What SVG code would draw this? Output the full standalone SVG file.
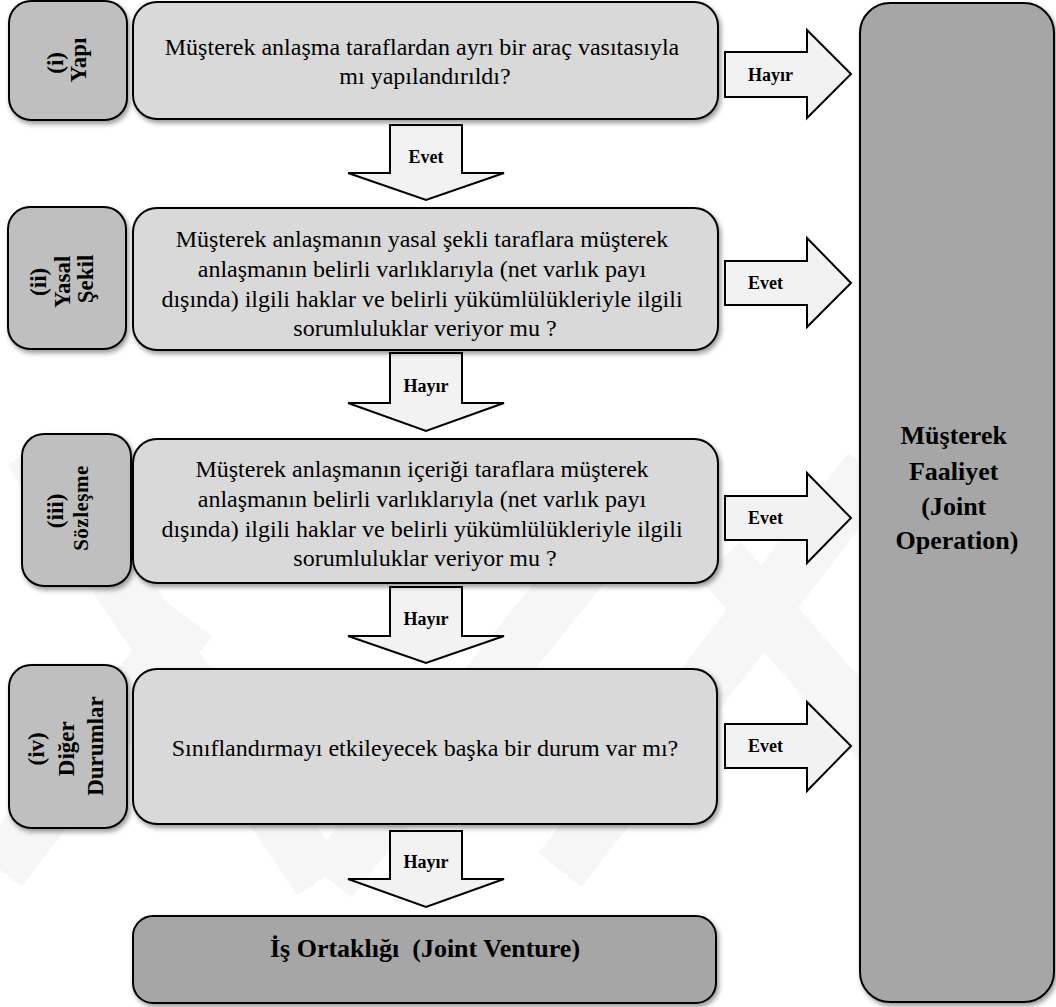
<svg xmlns="http://www.w3.org/2000/svg" width="1056" height="1007" viewBox="0 0 1056 1007">
  <defs>
    <filter id="shadow" x="-10%" y="-10%" width="130%" height="130%">
      <feDropShadow dx="2" dy="3" stdDeviation="2.5" flood-color="#000" flood-opacity="0.4"/>
    </filter>
    <style>
      text { font-family: "Times New Roman", "Liberation Serif", "DejaVu Serif", serif; fill: #000; }
      .label { fill: #bfbfbf; stroke: #000; stroke-width: 2; filter: url(#shadow); }
      .step { fill: #d9d9d9; stroke: #000; stroke-width: 2; filter: url(#shadow); }
      .result { fill: #a6a6a6; stroke: #000; stroke-width: 2; filter: url(#shadow); }
      .arrow { fill: #f2f2f2; stroke: #000; stroke-width: 2; stroke-linejoin: miter; }
      .q { font-size: 24px; text-anchor: middle; }
      .lbl { font-size: 23px; font-weight: bold; text-anchor: middle; }
      .big { font-size: 26px; font-weight: bold; text-anchor: middle; }
      .tag { font-size: 18px; font-weight: bold; }
      .mark { fill: none; stroke: #f6f6f6; stroke-width: 55; stroke-linecap: butt; }
    </style>
  </defs>

  <rect width="1056" height="1007" fill="#fff"/>

  <!-- faint background emblem -->
  <g id="background-emblem">
    <line class="mark" x1="30" y1="450" x2="320" y2="880"/>
    <line class="mark" x1="0" y1="870" x2="190" y2="620"/>
    <line class="mark" x1="560" y1="870" x2="870" y2="470"/>
    <line class="mark" x1="720" y1="560" x2="1000" y2="880"/>
    <line class="mark" x1="330" y1="880" x2="620" y2="520"/>
  </g>

  <!-- connectors -->
  <g id="connectors">
    <!-- right-pointing block arrows -->
    <path class="arrow" d="M725,52 H807 V30 L851,74 L807,118 V97 H725 Z"/>
    <text class="tag" x="748" y="81">Hayır</text>
    <path class="arrow" d="M725,261 H807 V238 L851,283 L807,327 V305 H725 Z"/>
    <text class="tag" x="748" y="289">Evet</text>
    <path class="arrow" d="M725,496 H807 V473 L851,518 L807,563 V540 H725 Z"/>
    <text class="tag" x="748" y="524">Evet</text>
    <path class="arrow" d="M725,724 H807 V702 L851,746 L807,791 V768 H725 Z"/>
    <text class="tag" x="748" y="752">Evet</text>

    <!-- downward block arrows -->
    <path class="arrow" d="M390,125 H462 V173 H504 L426,200 L348,173 H390 Z"/>
    <text class="tag" x="426" y="163" text-anchor="middle">Evet</text>
    <path class="arrow" d="M390,353 H462 V403 H504 L426,431 L348,403 H390 Z"/>
    <text class="tag" x="426" y="392" text-anchor="middle">Hayır</text>
    <path class="arrow" d="M390,587 H462 V636 H504 L426,663 L348,636 H390 Z"/>
    <text class="tag" x="426" y="625" text-anchor="middle">Hayır</text>
    <path class="arrow" d="M390,831 H462 V879 H504 L426,907 L348,879 H390 Z"/>
    <text class="tag" x="426" y="868" text-anchor="middle">Hayır</text>
  </g>

  <!-- stage labels -->
  <g id="label-yapi">
    <rect class="label" x="9" y="1" width="118" height="119" rx="22"/>
    <text class="lbl" transform="translate(0,60) rotate(-90)">
      <tspan x="0" y="63">(i)</tspan>
      <tspan x="0" y="86">Yapı</tspan>
    </text>
  </g>
  <g id="label-yasal-sekil">
    <rect class="label" x="8" y="207" width="118" height="142" rx="22"/>
    <text class="lbl" transform="translate(0,279) rotate(-90)">
      <tspan x="0" y="46">(ii)</tspan>
      <tspan x="0" y="70">Yasal</tspan>
      <tspan x="0" y="93">Şekil</tspan>
    </text>
  </g>
  <g id="label-sozlesme">
    <rect class="label" x="22" y="434" width="109" height="152" rx="22"/>
    <text class="lbl" transform="translate(0,508) rotate(-90)">
      <tspan x="0" y="63">(iii)</tspan>
      <tspan x="0" y="88" style="font-size:21px;letter-spacing:0.5px">Sözleşme</tspan>
    </text>
  </g>
  <g id="label-diger-durumlar">
    <rect class="label" x="9" y="665" width="118" height="163" rx="22"/>
    <text class="lbl" transform="translate(0,746) rotate(-90)">
      <tspan x="0" y="44">(iv)</tspan>
      <tspan x="0" y="74">Diğer</tspan>
      <tspan x="0" y="103">Durumlar</tspan>
    </text>
  </g>

  <!-- questions -->
  <g id="q-yapi">
    <rect class="step" x="133" y="2" width="585" height="117" rx="24"/>
    <text class="q">
      <tspan x="425" y="55">Müşterek anlaşma taraflardan ayrı bir araç vasıtasıyla</tspan>
      <tspan x="425" y="84">mı yapılandırıldı?</tspan>
    </text>
  </g>
  <g id="q-yasal-sekil">
    <rect class="step" x="133" y="208" width="585" height="142" rx="24"/>
    <text class="q">
      <tspan x="425" y="247">Müşterek anlaşmanın yasal şekli taraflara müşterek</tspan>
      <tspan x="425" y="277">anlaşmanın belirli varlıklarıyla (net varlık payı</tspan>
      <tspan x="425" y="307">dışında) ilgili haklar ve belirli yükümlülükleriyle ilgili</tspan>
      <tspan x="425" y="336">sorumluluklar veriyor mu ?</tspan>
    </text>
  </g>
  <g id="q-sozlesme">
    <rect class="step" x="133" y="439" width="585" height="144" rx="24"/>
    <text class="q">
      <tspan x="425" y="477">Müşterek anlaşmanın içeriği taraflara müşterek</tspan>
      <tspan x="425" y="507">anlaşmanın belirli varlıklarıyla (net varlık payı</tspan>
      <tspan x="425" y="537">dışında) ilgili haklar ve belirli yükümlülükleriyle ilgili</tspan>
      <tspan x="425" y="566">sorumluluklar veriyor mu ?</tspan>
    </text>
  </g>
  <g id="q-diger">
    <rect class="step" x="133" y="669" width="584" height="155" rx="24"/>
    <text class="q" x="425" y="756">Sınıflandırmayı etkileyecek başka bir durum var mı?</text>
  </g>

  <!-- outcomes -->
  <g id="joint-operation">
    <rect class="result" x="860" y="3" width="194" height="999" rx="30"/>
    <text class="big">
      <tspan x="957" y="444">Müşterek</tspan>
      <tspan x="957" y="480">Faaliyet</tspan>
      <tspan x="957" y="515">(Joint</tspan>
      <tspan x="957" y="549">Operation)</tspan>
    </text>
  </g>
  <g id="joint-venture">
    <rect class="result" x="133" y="916" width="583" height="87" rx="20"/>
    <text class="big" x="425" y="957">İş Ortaklığı&#160; (Joint Venture)</text>
  </g>
</svg>
